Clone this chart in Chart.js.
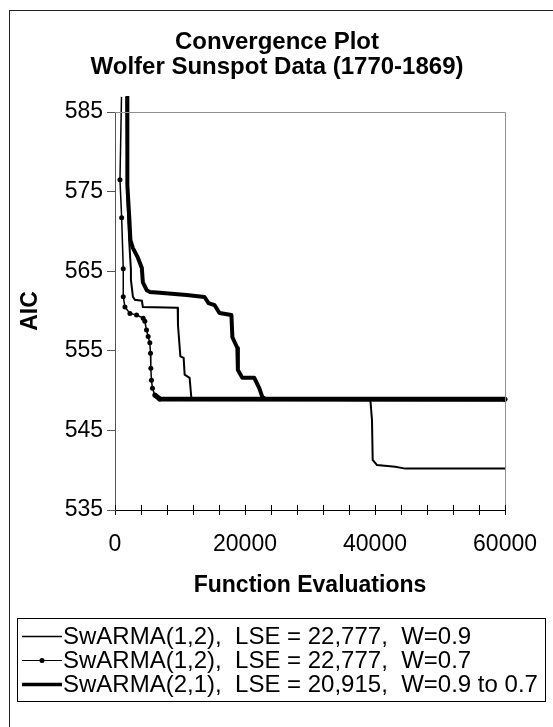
<!DOCTYPE html>
<html>
<head>
<meta charset="utf-8">
<script src="https://cdn.jsdelivr.net/npm/chart.js@4.4.0/dist/chart.umd.min.js"></script>
<style>
  html, body { margin: 0; padding: 0; background: #fff; }
</style>
</head>
<body>
<canvas id="chart" width="553" height="727"></canvas>
<script>
const titleLines = ['Convergence Plot', 'Wolfer Sunspot Data (1770-1869)']
const xTitle = 'Function Evaluations'
const yTitle = 'AIC'
const seriesLabels = [
  'SwARMA(1,2),  LSE = 22,777,  W=0.9',
  'SwARMA(1,2),  LSE = 22,777,  W=0.7',
  'SwARMA(2,1),  LSE = 20,915,  W=0.9 to 0.7'
]

// W=0.9 (thin line)
const w09X = [1760, 1913, 2220, 2450, 2450, 2755, 3061, 4133, 4286, 9643, 9689, 10056, 10561, 10714, 11479, 11734, 11938, 39290, 39535, 39642, 40300, 43117, 44647, 60000]
const w09Y = [586.9, 573.9, 568.3, 565.2, 563.9, 561.8, 561.4, 561.3, 560.5, 560.4, 558.2, 554.3, 554.1, 552.0, 551.6, 549.2, 548.95, 548.8, 546.3, 541.3, 540.65, 540.44, 540.2, 540.2]

// W=0.7 (thin line with markers)
const w07X = [1000, 765, 1025, 1270, 1270, 1530, 2296, 3316, 4337, 4592, 4847, 5102, 5357, 5460, 5510, 5612, 5765, 6122, 6888, 60000]
const w07Y = [586.9, 576.5, 571.7, 565.3, 561.8, 560.5, 559.7, 559.5, 559.1, 558.7, 557.6, 556.8, 556.0, 554.7, 552.8, 551.3, 550.3, 549.45, 548.95, 548.9]

// W=0.9 to 0.7 (thick line)
const wMixX = [1900, 1900, 2220, 2370, 2755, 3520, 4130, 4285, 4900, 5360, 6888, 11020, 13775, 14388, 15306, 16071, 17908, 18061, 18826, 18903, 19592, 21428, 22194, 22653, 23112, 60000]
const wMixY = [586.9, 575.8, 571.4, 568.9, 567.9, 566.7, 565.4, 563.6, 562.6, 562.4, 562.3, 562.0, 561.76, 561.0, 560.75, 559.75, 559.5, 556.7, 555.35, 552.6, 551.6, 551.6, 550.3, 549.2, 548.95, 548.9]

const xMin = 0, xMax = 60000, xStep = 4000, xLabelEvery = 20000
const yMin = 535, yMax = 585, yStep = 10

const FONT = '"Liberation Sans", Arial, sans-serif'
const markerRadius = 2.5

const toPoints = (xs, ys) => xs.map((x, i) => ({ x: x, y: ys[i] }))

// outer frame and the two-line title, centred on the whole picture
const frame = {
  id: 'frame',
  beforeDraw(chart) {
    const ctx = chart.ctx
    ctx.save()
    ctx.fillStyle = '#fff'
    ctx.fillRect(0, 0, chart.width, chart.height)
    ctx.strokeStyle = '#222'
    ctx.lineWidth = 1
    ctx.strokeRect(9.5, 10.5, 600, 800)
    ctx.fillStyle = '#000'
    ctx.font = 'bold 24px ' + FONT
    ctx.textAlign = 'center'
    ctx.textBaseline = 'middle'
    titleLines.forEach((t, i) => ctx.fillText(t, 277, 42 + i * 25))
    ctx.restore()
  }
}

// tick marks crossing the x axis, and the plot border
const extras = {
  id: 'extras',
  afterDraw(chart) {
    const ctx = chart.ctx
    const area = chart.chartArea
    const xs = chart.scales.x
    ctx.save()
    ctx.strokeStyle = '#909090'
    ctx.lineWidth = 1
    ctx.beginPath()
    ctx.moveTo(area.left, area.top + 0.5)
    ctx.lineTo(area.right + 0.5, area.top + 0.5)
    ctx.lineTo(area.right + 0.5, area.bottom)
    ctx.stroke()
    ctx.strokeStyle = '#000'
    ctx.beginPath()
    xs.ticks.forEach((t) => {
      const px = Math.round(xs.getPixelForValue(t.value)) + 0.5
      ctx.moveTo(px, area.bottom - 5)
      ctx.lineTo(px, area.bottom)
    })
    ctx.stroke()
    ctx.restore()
  }
}

const legendBox = {
  id: 'legendBox',
  afterDraw(chart) {
    const ctx = chart.ctx
    ctx.save()
    ctx.fillStyle = '#fff'
    ctx.fillRect(17, 618, 528, 84)
    ctx.strokeStyle = '#000'
    ctx.lineWidth = 1
    ctx.strokeRect(17.5, 618.5, 528, 83)
    ctx.font = '24px ' + FONT
    ctx.textBaseline = 'middle'
    chart.data.datasets.forEach((ds, i) => {
      const y = 636.5 + i * 24
      ctx.strokeStyle = ds.borderColor
      ctx.lineWidth = ds.legendWidth
      ctx.beginPath()
      ctx.moveTo(22, y)
      ctx.lineTo(62, y)
      ctx.stroke()
      if (ds.legendMarker) {
        ctx.fillStyle = ds.borderColor
        ctx.beginPath()
        ctx.arc(42, y, markerRadius, 0, Math.PI * 2)
        ctx.fill()
      }
      ctx.fillStyle = '#000'
      ctx.fillText(ds.label, 63, y + 1)
    })
    ctx.restore()
  }
}

const ctx = document.getElementById('chart').getContext('2d')

new Chart(ctx, {
  type: 'scatter',
  data: {
    datasets: [
      {
        label: seriesLabels[0],
        data: toPoints(w09X, w09Y),
        showLine: true,
        borderColor: '#000',
        borderWidth: 2,
        legendWidth: 1.5,
        pointRadius: 0,
        clip: { left: 5, top: 16, right: 5, bottom: 5 },
      },
      {
        label: seriesLabels[1],
        data: toPoints(w07X, w07Y),
        showLine: true,
        borderColor: '#000',
        borderWidth: 1.5,
        legendWidth: 1.2,
        legendMarker: true,
        pointRadius: (c) => (c.dataIndex === 0 ? 0 : markerRadius),
        pointBackgroundColor: '#000',
        pointBorderWidth: 0,
        // dense markers along the plateau read as a wide band
        segment: {
          borderWidth: (c) => (c.p0.parsed.y < 549.5 && c.p1.parsed.y < 549.5 ? 5 : 1.5),
        },
        clip: { left: 5, top: 16, right: 5, bottom: 5 },
      },
      {
        label: seriesLabels[2],
        data: toPoints(wMixX, wMixY),
        showLine: true,
        borderColor: '#000',
        borderWidth: 4,
        legendWidth: 3.5,
        pointRadius: 0,
        borderJoinStyle: 'round',
        clip: { left: 5, top: 16, right: 5, bottom: 5 },
      },
    ],
  },
  options: {
    responsive: false,
    animation: false,
    events: [],
    layout: { padding: { left: 0, right: 46, top: 112, bottom: 117 } },
    plugins: {
      legend: { display: false },
      tooltip: { enabled: false },
      title: { display: false },
    },
    scales: {
      x: {
        type: 'linear',
        min: xMin,
        max: xMax,
        afterFit: (s) => { s.height = 100 },
        border: { color: '#000', width: 1 },
        grid: { drawOnChartArea: false, drawTicks: true, tickLength: 5, color: '#000' },
        ticks: {
          stepSize: xStep,
          autoSkip: false,
          maxRotation: 0,
          padding: 16,
          color: '#000',
          font: { family: FONT, size: 23 },
          callback: (v) => (v % xLabelEvery === 0 ? String(v) : ''),
        },
        title: {
          display: true,
          text: xTitle,
          color: '#000',
          font: { family: FONT, size: 23, weight: 'bold' },
          padding: { top: 0, bottom: 11 },
        },
      },
      y: {
        type: 'linear',
        min: yMin,
        max: yMax,
        afterFit: (s) => { s.width = 115 },
        border: { color: '#555', width: 1 },
        grid: { drawOnChartArea: false, drawTicks: true, tickLength: 8, color: '#555' },
        ticks: {
          stepSize: yStep,
          padding: 4,
          color: '#000',
          font: { family: FONT, size: 23 },
          callback: (v) => String(v),
        },
        title: {
          display: true,
          text: yTitle,
          color: '#000',
          font: { family: FONT, size: 23, weight: 'bold' },
          padding: { top: 17, bottom: 0 },
        },
      },
    },
  },
  plugins: [frame, extras, legendBox],
})
</script>
</body>
</html>
